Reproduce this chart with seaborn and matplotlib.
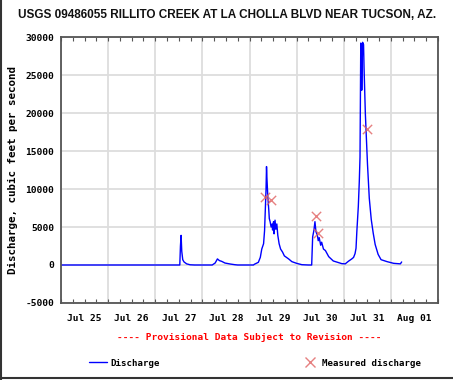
import numpy as np
import pandas as pd
import matplotlib
matplotlib.use("Agg")
import matplotlib.pyplot as plt
import matplotlib.dates as mdates
from matplotlib.lines import Line2D
from matplotlib.ticker import FuncFormatter, MultipleLocator
import seaborn as sns

# discharge trace (cfs)
times = ["07-25 00:00", "07-27 12:30", "07-27 12:50", "07-27 13:10", "07-27 13:30",
         "07-27 14:00", "07-27 14:40", "07-27 16:00", "07-27 17:45", "07-27 20:00",
         "07-28 05:00", "07-28 06:30", "07-28 07:40", "07-28 08:40", "07-28 09:50",
         "07-28 11:30", "07-28 14:10", "07-28 16:30", "07-28 18:00",
         "07-29 02:00", "07-29 02:30", "07-29 04:30", "07-29 05:30", "07-29 06:15",
         "07-29 07:10", "07-29 07:40", "07-29 07:55", "07-29 08:25", "07-29 08:40",
         "07-29 08:55", "07-29 09:20", "07-29 09:50", "07-29 10:05", "07-29 10:30",
         "07-29 11:00", "07-29 11:30", "07-29 11:45", "07-29 12:15", "07-29 12:30",
         "07-29 13:00", "07-29 13:25", "07-29 13:55", "07-29 14:25", "07-29 15:05",
         "07-29 15:50", "07-29 16:50", "07-29 17:45", "07-29 19:55", "07-29 21:35",
         "07-30 00:00", "07-30 02:40", "07-30 06:00", "07-30 07:40", "07-30 08:10",
         "07-30 08:50", "07-30 09:20", "07-30 09:50", "07-30 10:35", "07-30 11:00",
         "07-30 11:30", "07-30 12:15", "07-30 12:45", "07-30 13:40", "07-30 14:40",
         "07-30 16:20", "07-30 18:40", "07-30 23:00", "07-31 00:45", "07-31 02:25",
         "07-31 04:05", "07-31 05:00", "07-31 05:45", "07-31 06:15", "07-31 06:40",
         "07-31 07:10", "07-31 07:25", "07-31 07:55", "07-31 08:17", "07-31 08:40",
         "07-31 08:55", "07-31 09:10", "07-31 09:35", "07-31 10:05", "07-31 10:20",
         "07-31 11:00", "07-31 12:05", "07-31 13:00", "07-31 14:00", "07-31 15:00",
         "07-31 16:00", "07-31 17:30", "07-31 19:00", "07-31 22:05", "08-01 01:25",
         "08-01 04:50", "08-01 05:30"]
discharge = [0, 0, 2500, 3900, 1800,
             700, 400, 150, 30, 0,
             0, 260, 800, 580, 480,
             260, 130, 40, 0,
             0, 100, 350, 1000, 2100,
             2800, 4500, 6300, 9900, 12950,
             11200, 9000, 7200, 6100, 5700,
             5000, 5400, 4600, 5700, 4100,
             5900, 4700, 5400, 3900, 2800,
             2100, 1700, 1200, 800, 440,
             220, 40, 0, 0, 3700,
             4600, 5700, 4400, 3900, 3200,
             3600, 2600, 3000, 2100, 1900,
             1100, 530, 180, 150, 500,
             800, 1000, 1500, 2200, 4400,
             6600, 7700, 11000, 14200, 29200,
             28500, 23000, 29300, 29000, 26000,
             19900, 13300, 8800, 6000, 4200,
             2700, 1400, 700, 440, 220,
             150, 400]

# field measurements
meas_times = ["07-29 07:55", "07-29 11:00", "07-30 09:50", "07-30 11:00", "07-31 12:00"]
meas_values = [8900, 8500, 6450, 4200, 17900]

df = pd.DataFrame({"date": pd.to_datetime(["2014-" + t for t in times]), "q": discharge})
dfm = pd.DataFrame({"date": pd.to_datetime(["2014-" + t for t in meas_times]), "q": meas_values})

sns.set_style("white")
plt.rcParams['font.family'] = ['DejaVu Sans Mono']
plt.rcParams['text.color'] = 'black'
mono = dict(family='DejaVu Sans Mono', weight='bold')

fig = plt.figure(figsize=(4.53, 3.80), dpi=100)
ax = fig.add_axes([61/453, 1 - 303/380, 377/453, 266/380])

sns.lineplot(data=df, x="date", y="q", ax=ax, color="#0000ff", linewidth=1.0, legend=False)
sns.scatterplot(data=dfm, x="date", y="q", ax=ax, marker="x", color="#e06060",
                s=45, linewidth=1.0, alpha=0.8, legend=False, zorder=5)

ax.set_xlim(pd.Timestamp("2014-07-25"), pd.Timestamp("2014-08-02"))
ax.set_ylim(-5000, 30000)
ax.yaxis.set_major_locator(MultipleLocator(5000))
ax.yaxis.set_major_formatter(FuncFormatter(lambda v, p: "%d" % v))

ax.xaxis.set_major_locator(mdates.DayLocator())
ax.xaxis.set_major_formatter(FuncFormatter(lambda v, p: ""))
ax.xaxis.set_minor_locator(mdates.HourLocator(byhour=[6, 12, 18]))
ax.xaxis.set_minor_formatter(FuncFormatter(
    lambda v, p: mdates.num2date(v).strftime("%b %d") if mdates.num2date(v).hour == 12 else ""))

ax.grid(True, which="major", color="#dddddd", linewidth=1.3)
ax.set_axisbelow(True)
for s in ax.spines.values():
    s.set_color("#555555")
    s.set_linewidth(1.3)

ax.tick_params(axis="x", which="both", direction="in", length=3, top=True, bottom=True,
               color="#555555", width=0.8, labelcolor="black")
ax.tick_params(axis="x", which="minor", pad=8)
ax.tick_params(axis="y", which="both", length=0, pad=5, labelcolor="black")
for lab in ax.get_xticklabels(minor=True) + ax.get_yticklabels():
    lab.set_fontfamily('DejaVu Sans Mono')
    lab.set_fontweight('bold')
    lab.set_fontsize(6.8)

ax.set_xlabel("")
ax.set_ylabel("Discharge, cubic feet per second", fontsize=7.85, labelpad=5,
              color="black", **mono)

fig.text(227/453, 1 - 15/380, "USGS 09486055 RILLITO CREEK AT LA CHOLLA BLVD NEAR TUCSON, AZ.",
         ha="center", va="center", fontsize=8.45, fontweight="bold",
         family="Liberation Sans", color="#111111")
fig.text(249/453, 1 - 337/380, "---- Provisional Data Subject to Revision ----",
         ha="center", va="center", fontsize=6.8, color="#ff0000", **mono)

handles = [Line2D([], [], color="#0000ff", linewidth=1.0),
           Line2D([], [], color="#e06060", marker="x", linestyle="none", markersize=7, alpha=0.8)]
fig.legend(handles, ["Discharge", "Measured discharge"], loc="center",
           bbox_to_anchor=(255/453, 1 - 363/380), ncol=2, frameon=False,
           columnspacing=15.3, handlelength=2.0, handletextpad=0.4,
           prop=dict(family='DejaVu Sans Mono', weight='bold', size=6.6))

fig.add_artist(Line2D([0.003, 0.003], [0, 1], color="#333333", linewidth=1.5))
fig.add_artist(Line2D([0, 1], [0.005, 0.005], color="#333333", linewidth=1.5))

fig.savefig("out.png", dpi=100)
